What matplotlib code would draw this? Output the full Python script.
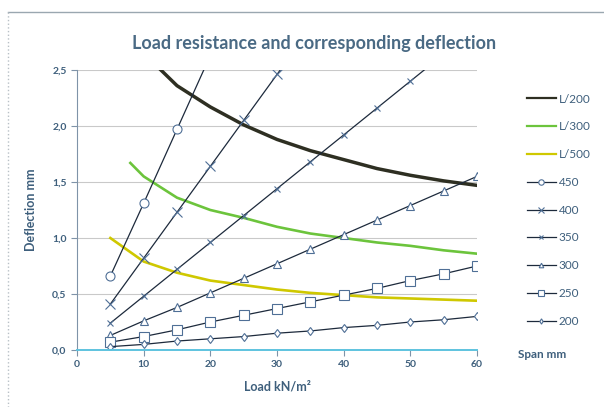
import matplotlib.pyplot as plt
from matplotlib.lines import Line2D
from matplotlib.ticker import FuncFormatter

# load values (kN/m2) for the span series
loads = [5, 10, 15, 20, 25, 30, 35, 40, 45, 50, 55, 60]

# deflection per span (mm)
span_200 = [0.03, 0.05, 0.08, 0.10, 0.12, 0.15, 0.17, 0.20, 0.22, 0.25, 0.27, 0.30]
span_250 = [0.07, 0.12, 0.18, 0.25, 0.31, 0.37, 0.43, 0.49, 0.55, 0.62, 0.68, 0.75]
span_300 = [0.13, 0.26, 0.38, 0.51, 0.64, 0.77, 0.90, 1.03, 1.16, 1.29, 1.42, 1.55]
span_350 = [0.24, 0.48, 0.72, 0.96, 1.20, 1.44, 1.68, 1.92, 2.16, 2.40, 2.64, 2.88]
span_400 = [0.41, 0.82, 1.23, 1.64, 2.05, 2.46, 2.87]
span_450 = [0.66, 1.31, 1.97, 2.63]

# deflection limits
lim_200_x = [10, 15, 20, 25, 30, 35, 40, 45, 50, 55, 60]
lim_200 = [2.65, 2.36, 2.17, 2.01, 1.88, 1.78, 1.70, 1.62, 1.56, 1.51, 1.47]
lim_300_x = [8, 10, 15, 20, 25, 30, 35, 40, 45, 50, 55, 60]
lim_300 = [1.67, 1.55, 1.36, 1.25, 1.18, 1.10, 1.04, 1.00, 0.96, 0.93, 0.89, 0.86]
lim_500_x = [5, 10, 15, 20, 25, 30, 35, 40, 45, 50, 55, 60]
lim_500 = [1.00, 0.79, 0.69, 0.62, 0.58, 0.54, 0.51, 0.49, 0.47, 0.46, 0.45, 0.44]

txt = "#3e5f7c"
line_col = "#1d2a3c"
mark_col = "#4f6f96"

plt.rcParams["font.family"] = ["Lato", "DejaVu Sans"]

fig = plt.figure(figsize=(6.04, 4.07), dpi=100)
ax = fig.add_axes([77/604, 1-350/407, 400/604, 280/407])

# frame of the scanned chart
fig.add_artist(Line2D([8/604, 1], [1-12/407, 1-12/407], color="#9aa7b0", lw=1))
fig.add_artist(Line2D([8/604, 8/604], [1-12/407, 0.0], color="#b8c0c6", lw=1, ls=":"))

ax.plot(lim_200_x, lim_200, color="#2e2f22", lw=2.5, label="L/200")
ax.plot(lim_300_x, lim_300, color="#6cc43c", lw=1.9, label="L/300")
ax.plot(lim_500_x, lim_500, color="#cfc800", lw=1.9, label="L/500")

series = [
    ("450", span_450, "o", 6.5),
    ("400", span_400, "x", 6.5),
    ("350", span_350, "x", 5),
    ("300", span_300, "^", 5.5),
    ("250", span_250, "s", 6.5),
    ("200", span_200, "d", 4.5),
]
for name, vals, m, ms in series:
    ax.plot(loads[:len(vals)], vals, color=line_col, lw=0.9, marker=m, ms=ms,
            mfc="white", mec=mark_col, mew=0.8, label=name)

ax.set_xlim(0, 60)
ax.set_ylim(0, 2.5)
ax.set_xticks(range(0, 61, 10))
ax.set_yticks([0, 0.5, 1.0, 1.5, 2.0, 2.5])
ax.yaxis.set_major_formatter(FuncFormatter(lambda v, p: f"{v:.1f}".replace(".", ",")))
ax.grid(axis="y", color="#c9c9c9", lw=0.8)
ax.set_axisbelow(True)
for s in ["top", "right"]:
    ax.spines[s].set_visible(False)
ax.spines["left"].set_color("#7f93a8")
ax.spines["bottom"].set_color("#5ec3df")
ax.spines["bottom"].set_linewidth(1.4)
ax.tick_params(axis="both", colors="#7f93a8", labelcolor=txt, labelsize=7.5, length=4)
for lab in ax.get_xticklabels() + ax.get_yticklabels():
    lab.set_fontweight("bold")

ax.set_xlabel("Load kN/m²", color=txt, fontsize=9, fontweight="bold", labelpad=8)
ax.set_ylabel("Deflection mm", color=txt, fontsize=9, fontweight="bold", labelpad=11)

fig.text(314/604, 1-43/407, "Load resistance and corresponding deflection",
         ha="center", va="center", color="#4a6a84", fontsize=13, fontweight="bold")

leg = ax.legend(loc="upper left", bbox_to_anchor=(516/604, 1-83/407),
                bbox_transform=fig.transFigure, frameon=False, fontsize=8.5,
                labelspacing=1.42, handlelength=2.5, handletextpad=0.2,
                markerscale=0.6)
for t in leg.get_texts():
    t.set_color(txt)
for h in leg.legend_handles:
    h.set_linewidth(min(h.get_linewidth(), 1.6))

fig.text(518/604, 1-354/407, "Span mm", color=txt, fontsize=8.5,
         fontweight="bold", va="center")

fig.savefig("out.png", dpi=100)
